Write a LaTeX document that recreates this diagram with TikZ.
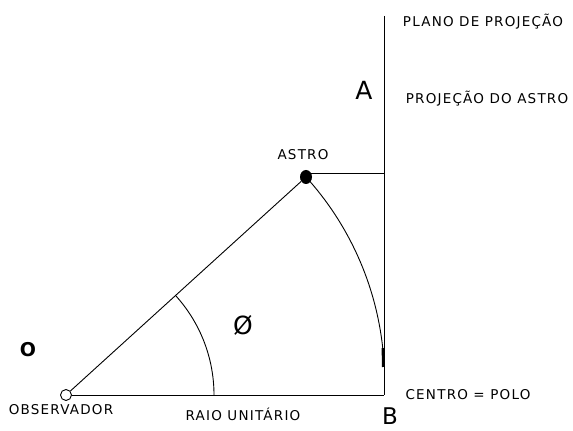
\documentclass[tikz,border=0pt]{standalone}
\usepackage{fontspec}
\usetikzlibrary{shapes.geometric}
\setmainfont{DejaVu Sans}
\newfontfamily\cadfont[LetterSpace=9]{DejaVu Sans}
\begin{document}
\begin{tikzpicture}[x=1pt,y=1pt,
  lbl/.style={inner sep=0pt,font=\cadfont\fontsize{13.5}{15}\selectfont},
  big/.style={inner sep=0pt,font=\fontsize{25}{28}\selectfont},
  ln/.style={line width=0.9pt,black}]
\useasboundingbox (0,0) rectangle (573,431);
% points
\node[circle,draw,line width=0.9pt,minimum size=11pt,inner sep=0pt] (obs) at (66,36) {};
\node[ellipse,fill=black,minimum width=12pt,minimum height=14pt,inner sep=0pt] (astro) at (306,254) {};
\coordinate (top) at (384,415);
\coordinate (bot) at (384,36);
\coordinate (proj) at (384,258);
\coordinate (tickend) at (383,64);
% lines
\draw[ln] (top) -- (bot);
\draw[ln] (obs) -- (bot);
\draw[ln] (obs) -- (astro);
\draw[ln] (astro.north east |- proj) -- (proj);
\draw[ln] (astro.center) arc[start angle=42.2,end angle=6.1,radius=302.7] coordinate (arcend);
\draw[line width=2.2pt] (arcend) -- (tickend);
\draw[ln] ([shift={(42.25:148)}]obs.center) arc[start angle=42.25,end angle=0,radius=148];
% labels
\node[lbl] (plano) at (483,409) {PLANO DE PROJEÇÃO};
\node[lbl] (projast) at (487,332) {PROJEÇÃO DO ASTRO};
\node[lbl] (astrolbl) at (303,276) {ASTRO};
\node[lbl] (obslbl) at (61,21) {OBSERVADOR};
\node[lbl] (raio) at (243,17) {RAIO UNITÁRIO};
\node[lbl] (centro) at (468,36) {CENTRO = POLO};
\node[big] (A) at (364,341) {A};
\node[inner sep=0pt,font=\fontsize{23}{25}\selectfont,anchor=base] (B) at (390,6) {B};
\node[inner sep=0pt,font=\bfseries\fontsize{19}{21}\selectfont] (O) at (28,81) {O};
\node[inner sep=0pt,font=\fontsize{25}{27}\selectfont] (phi) at (243,106) {Ø};
\end{tikzpicture}
\end{document}
